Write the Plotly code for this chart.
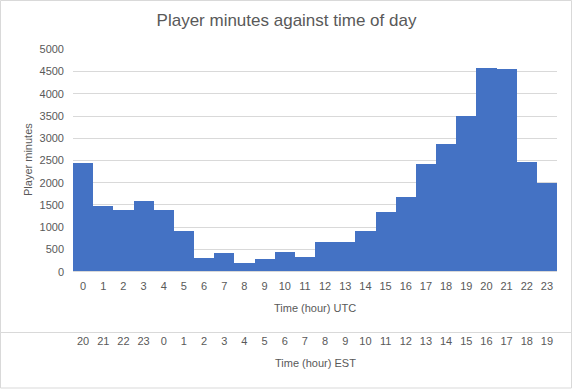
import plotly.graph_objects as go

hours_utc = list(range(24))
utc_labels = [str(h) for h in hours_utc]
est_labels = ["20", "21", "22", "23", "0", "1", "2", "3", "4", "5", "6", "7",
              "8", "9", "10", "11", "12", "13", "14", "15", "16", "17", "18", "19"]
player_minutes = [2430, 1460, 1370, 1590, 1390, 900, 310, 420, 200, 270, 430, 330,
                  650, 670, 900, 1340, 1680, 2420, 2870, 3500, 4580, 4540, 2470, 1980]

W, H = 573, 389
FONT = "Liberation Sans"
GREY = "#595959"

def py(px):
    return 1 - px / H

def pxx(px):
    return px / W

fig = go.Figure()
fig.add_trace(go.Bar(x=hours_utc, y=player_minutes, marker=dict(color="#4472C4", line=dict(width=0)),
                     showlegend=False))
# invisible trace for second axis
fig.add_trace(go.Scatter(x=hours_utc, y=[None] * 24, xaxis="x2", yaxis="y", showlegend=False,
                         hoverinfo="skip"))

fig.update_layout(
    template="none",
    width=W, height=H,
    margin=dict(l=0, r=0, t=0, b=0, pad=0),
    paper_bgcolor="white", plot_bgcolor="white",
    bargap=0,
    font=dict(family=FONT, color=GREY, size=11),
    title=dict(text="Player minutes against time of day", x=0.5, xanchor="center",
               y=py(20), yanchor="middle", yref="container", xref="container",
               automargin=False,
               font=dict(family=FONT, size=17, color=GREY)),
    xaxis=dict(domain=[pxx(73), pxx(557)], range=[-0.5, 23.5], automargin=False,
               tickmode="array", tickvals=hours_utc, ticktext=utc_labels,
               showgrid=False, zeroline=False, showline=False, ticks="",
               tickfont=dict(size=11, color=GREY), ticklabelstandoff=6),
    xaxis2=dict(overlaying="x", anchor="free", position=py(327), side="bottom", automargin=False,
                range=[-0.5, 23.5], tickmode="array", tickvals=hours_utc, ticktext=est_labels,
                showgrid=False, zeroline=False, showline=False, ticks="",
                tickfont=dict(size=11, color=GREY), ticklabelstandoff=6),
    yaxis=dict(domain=[py(271.7), py(49.3)], range=[0, 5000], dtick=500, automargin=False,
               showgrid=True, gridcolor="#D9D9D9", gridwidth=1,
               zeroline=True, zerolinecolor="#D9D9D9", zerolinewidth=1, showline=False, ticks="",
               tickfont=dict(size=11, color=GREY), ticklabelstandoff=8),
)

annotations = [
    dict(text="Player minutes", x=pxx(28), y=py(160), xref="paper", yref="paper",
         xanchor="center", yanchor="middle",
         textangle=-90, showarrow=False, font=dict(size=11, color=GREY)),
    dict(text="Time (hour) UTC", x=pxx(315), y=py(308), xref="paper", yref="paper",
         xanchor="center", yanchor="middle",
         showarrow=False, font=dict(size=11, color=GREY)),
    dict(text="Time (hour) EST", x=pxx(315), y=py(363), xref="paper", yref="paper",
         xanchor="center", yanchor="middle",
         showarrow=False, font=dict(size=11, color=GREY)),
]
fig.update_layout(annotations=annotations)

fig.add_shape(type="rect", xref="paper", yref="paper", x0=pxx(0.5), x1=pxx(571.5),
              y0=py(332.5), y1=py(0.5), line=dict(color="#D9D9D9", width=1))
fig.add_shape(type="rect", xref="paper", yref="paper", x0=pxx(0.5), x1=pxx(571.5),
              y0=py(388), y1=py(332.5), line=dict(color="#D9D9D9", width=1))

fig.write_html("out.html")
